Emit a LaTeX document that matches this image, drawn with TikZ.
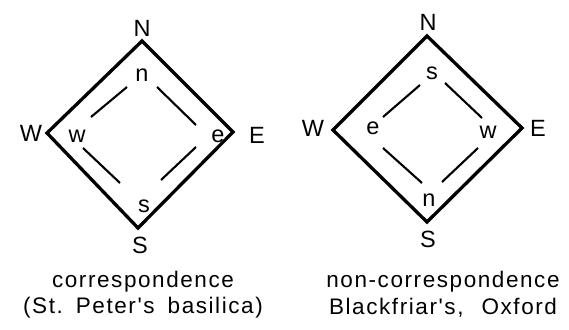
\documentclass[tikz,border=0pt]{standalone}
\usepackage{fontspec}
\setmainfont{Liberation Sans}
\newfontfamily\capfont[LetterSpace=7]{Liberation Sans}
\newcommand{\wsp}[1]{\hspace{#1}}
\begin{document}
\begin{tikzpicture}[x=1pt,y=-1pt,
  outer/.style={line width=3.3pt,line join=miter},
  inner/.style={line width=2.1pt},
  lbl/.style={font=\fontsize{23.5}{23.5}\selectfont,inner sep=0pt},
  captext/.style={font=\capfont\fontsize{22.5}{22.5}\selectfont,inner sep=0pt,align=center}]
\useasboundingbox (0,0) rectangle (569,329);

% left diamond: correspondence
\coordinate (LN) at (142,41);
\coordinate (LE) at (233,132);
\coordinate (LS) at (138,228);
\coordinate (LW) at (47,133);
\draw[outer] (LN) -- (LE) -- (LS) -- (LW) -- cycle;
\coordinate (l1a) at (127,87);  \coordinate (l1b) at (91,117);
\coordinate (l2a) at (157,87);  \coordinate (l2b) at (196,125);
\coordinate (l3a) at (83,148);  \coordinate (l3b) at (120,183);
\coordinate (l4a) at (196,147); \coordinate (l4b) at (161,180);
\draw[inner] (l1a) -- (l1b);
\draw[inner] (l2a) -- (l2b);
\draw[inner] (l3a) -- (l3b);
\draw[inner] (l4a) -- (l4b);
\node[lbl] (LNt) at (142,28) {N};
\node[lbl] (LEt) at (257,135) {E};
\node[lbl] (LSt) at (140,245) {S};
\node[lbl] (LWt) at (31,133) {W};
\node[lbl] (Lnt) at (142,75) {n};
\node[lbl] (Let) at (218,136) {e};
\node[lbl] (Lst) at (144,206) {s};
\node[lbl] (Lwt) at (77,136) {w};

% right diamond: non-correspondence
\coordinate (RN) at (427,36);
\coordinate (RE) at (522,128);
\coordinate (RS) at (427,222);
\coordinate (RW) at (333,130);
\draw[outer] (RN) -- (RE) -- (RS) -- (RW) -- cycle;
\coordinate (r1a) at (420,85);  \coordinate (r1b) at (383,117);
\coordinate (r2a) at (445,83);  \coordinate (r2b) at (482,118);
\coordinate (r3a) at (383,148); \coordinate (r3b) at (422,183);
\coordinate (r4a) at (478,148); \coordinate (r4b) at (442,182);
\draw[inner] (r1a) -- (r1b);
\draw[inner] (r2a) -- (r2b);
\draw[inner] (r3a) -- (r3b);
\draw[inner] (r4a) -- (r4b);
\node[lbl] (RNt) at (428,22) {N};
\node[lbl] (REt) at (538,128) {E};
\node[lbl] (RSt) at (428,239) {S};
\node[lbl] (RWt) at (313,128) {W};
\node[lbl] (Rst) at (432,73) {s};
\node[lbl] (Rwt) at (488,132) {w};
\node[lbl] (Rnt) at (429,200) {n};
\node[lbl] (Ret) at (373,128) {e};

% captions
\node[captext] (capL1) at (143,282) {correspondence};
\node[captext] (capL2) at (143,308) {(St.\wsp{13pt}Peter's\wsp{13pt}basilica)};
\node[captext] (capR1) at (443,282) {non-correspondence};
\node[captext] (capR2) at (443,308) {Blackfriar's,\wsp{18pt}Oxford};
\end{tikzpicture}
\end{document}
